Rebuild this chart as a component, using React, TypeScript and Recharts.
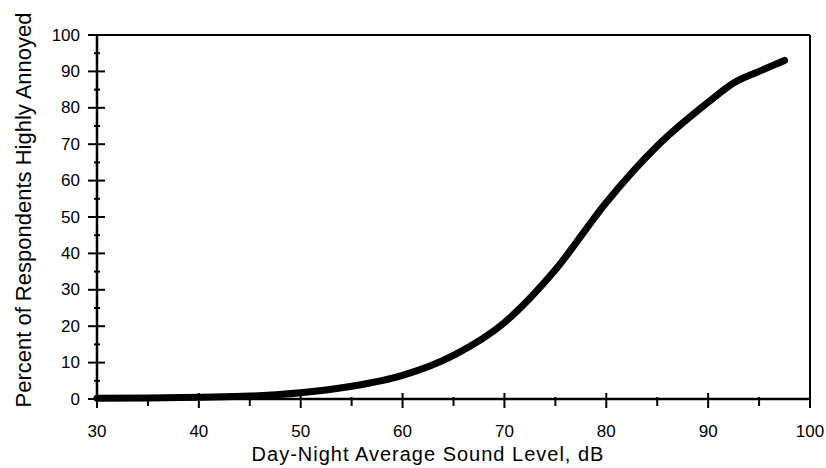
import { LineChart, Line, XAxis, YAxis, ReferenceLine } from "recharts";

const soundLevel = [30, 35, 40, 45, 50, 55, 60, 65, 70, 75, 80, 85, 90, 92.5, 95, 97.5];
const percentAnnoyed = [0.2, 0.3, 0.5, 0.8, 1.7, 3.5, 6.5, 12, 21, 35.5, 54, 69.5, 81.5, 86.8, 90, 93];
const xTicks = [30, 35, 40, 45, 50, 55, 60, 65, 70, 75, 80, 85, 90, 95, 100];
const yTicks = [0, 5, 10, 15, 20, 25, 30, 35, 40, 45, 50, 55, 60, 65, 70, 75, 80, 85, 90, 95, 100];

const data = soundLevel.map((x, i) => ({ x, y: percentAnnoyed[i] }));

const font = "'Liberation Sans', Arial, sans-serif";

function XTick({ x, y, payload }: any) {
  const major = payload.value % 10 === 0;
  return (
    <g>
      <line x1={x} x2={x} y1={major ? y - 6 : y - 2} y2={major ? y + 9 : y + 7} stroke="#000" strokeWidth={2} />
      {major && (
        <text x={x} y={y + 38} textAnchor="middle" fontSize={17} fill="#000" fontFamily={font}>
          {payload.value}
        </text>
      )}
    </g>
  );
}

function YTick({ x, y, payload }: any) {
  const major = payload.value % 10 === 0;
  return (
    <g>
      <line x1={major ? x - 9 : x - 3} x2={major ? x + 8 : x + 3} y1={y} y2={y} stroke="#000" strokeWidth={2} />
      {major && (
        <text x={x - 17} y={y} textAnchor="end" dominantBaseline="central" fontSize={17} fill="#000" fontFamily={font}>
          {payload.value}
        </text>
      )}
    </g>
  );
}

export default function App() {
  return (
    <div style={{ position: "absolute", left: 0, top: 0, width: 826, height: 468, background: "#fff" }}>
      <LineChart width={826} height={468} data={data} margin={{ top: 35, right: 16, bottom: 0, left: 0 }}>
        <XAxis
          dataKey="x"
          type="number"
          domain={[30, 100]}
          ticks={xTicks}
          interval={0}
          height={69}
          tickSize={0}
          tickMargin={0}
          axisLine={{ stroke: "#000", strokeWidth: 2.5 }}
          tickLine={false}
          tick={<XTick />}
          label={{
            content: () => (
              <text x={428} y={461} textAnchor="middle" fontSize={20} letterSpacing={1} fill="#000" fontFamily={font}>
                Day-Night Average Sound Level, dB
              </text>
            ),
          }}
        />
        <YAxis
          type="number"
          domain={[0, 100]}
          ticks={yTicks}
          interval={0}
          width={97}
          tickSize={0}
          tickMargin={0}
          axisLine={{ stroke: "#000", strokeWidth: 2.5 }}
          tickLine={false}
          tick={<YTick />}
          label={{
            content: () => (
              <text
                x={23}
                y={210}
                transform="rotate(-90 23 210)"
                textAnchor="middle"
                dominantBaseline="central"
                fontSize={22}
                fill="#000"
                fontFamily={font}
              >
                Percent of Respondents Highly Annoyed
              </text>
            ),
          }}
        />
        <ReferenceLine y={100} stroke="#000" strokeWidth={2} />
        <ReferenceLine x={100} stroke="#000" strokeWidth={2} />
        <Line
          type="monotone"
          dataKey="y"
          stroke="#000"
          strokeWidth={7}
          strokeLinecap="round"
          dot={false}
          isAnimationActive={false}
        />
      </LineChart>
    </div>
  );
}
